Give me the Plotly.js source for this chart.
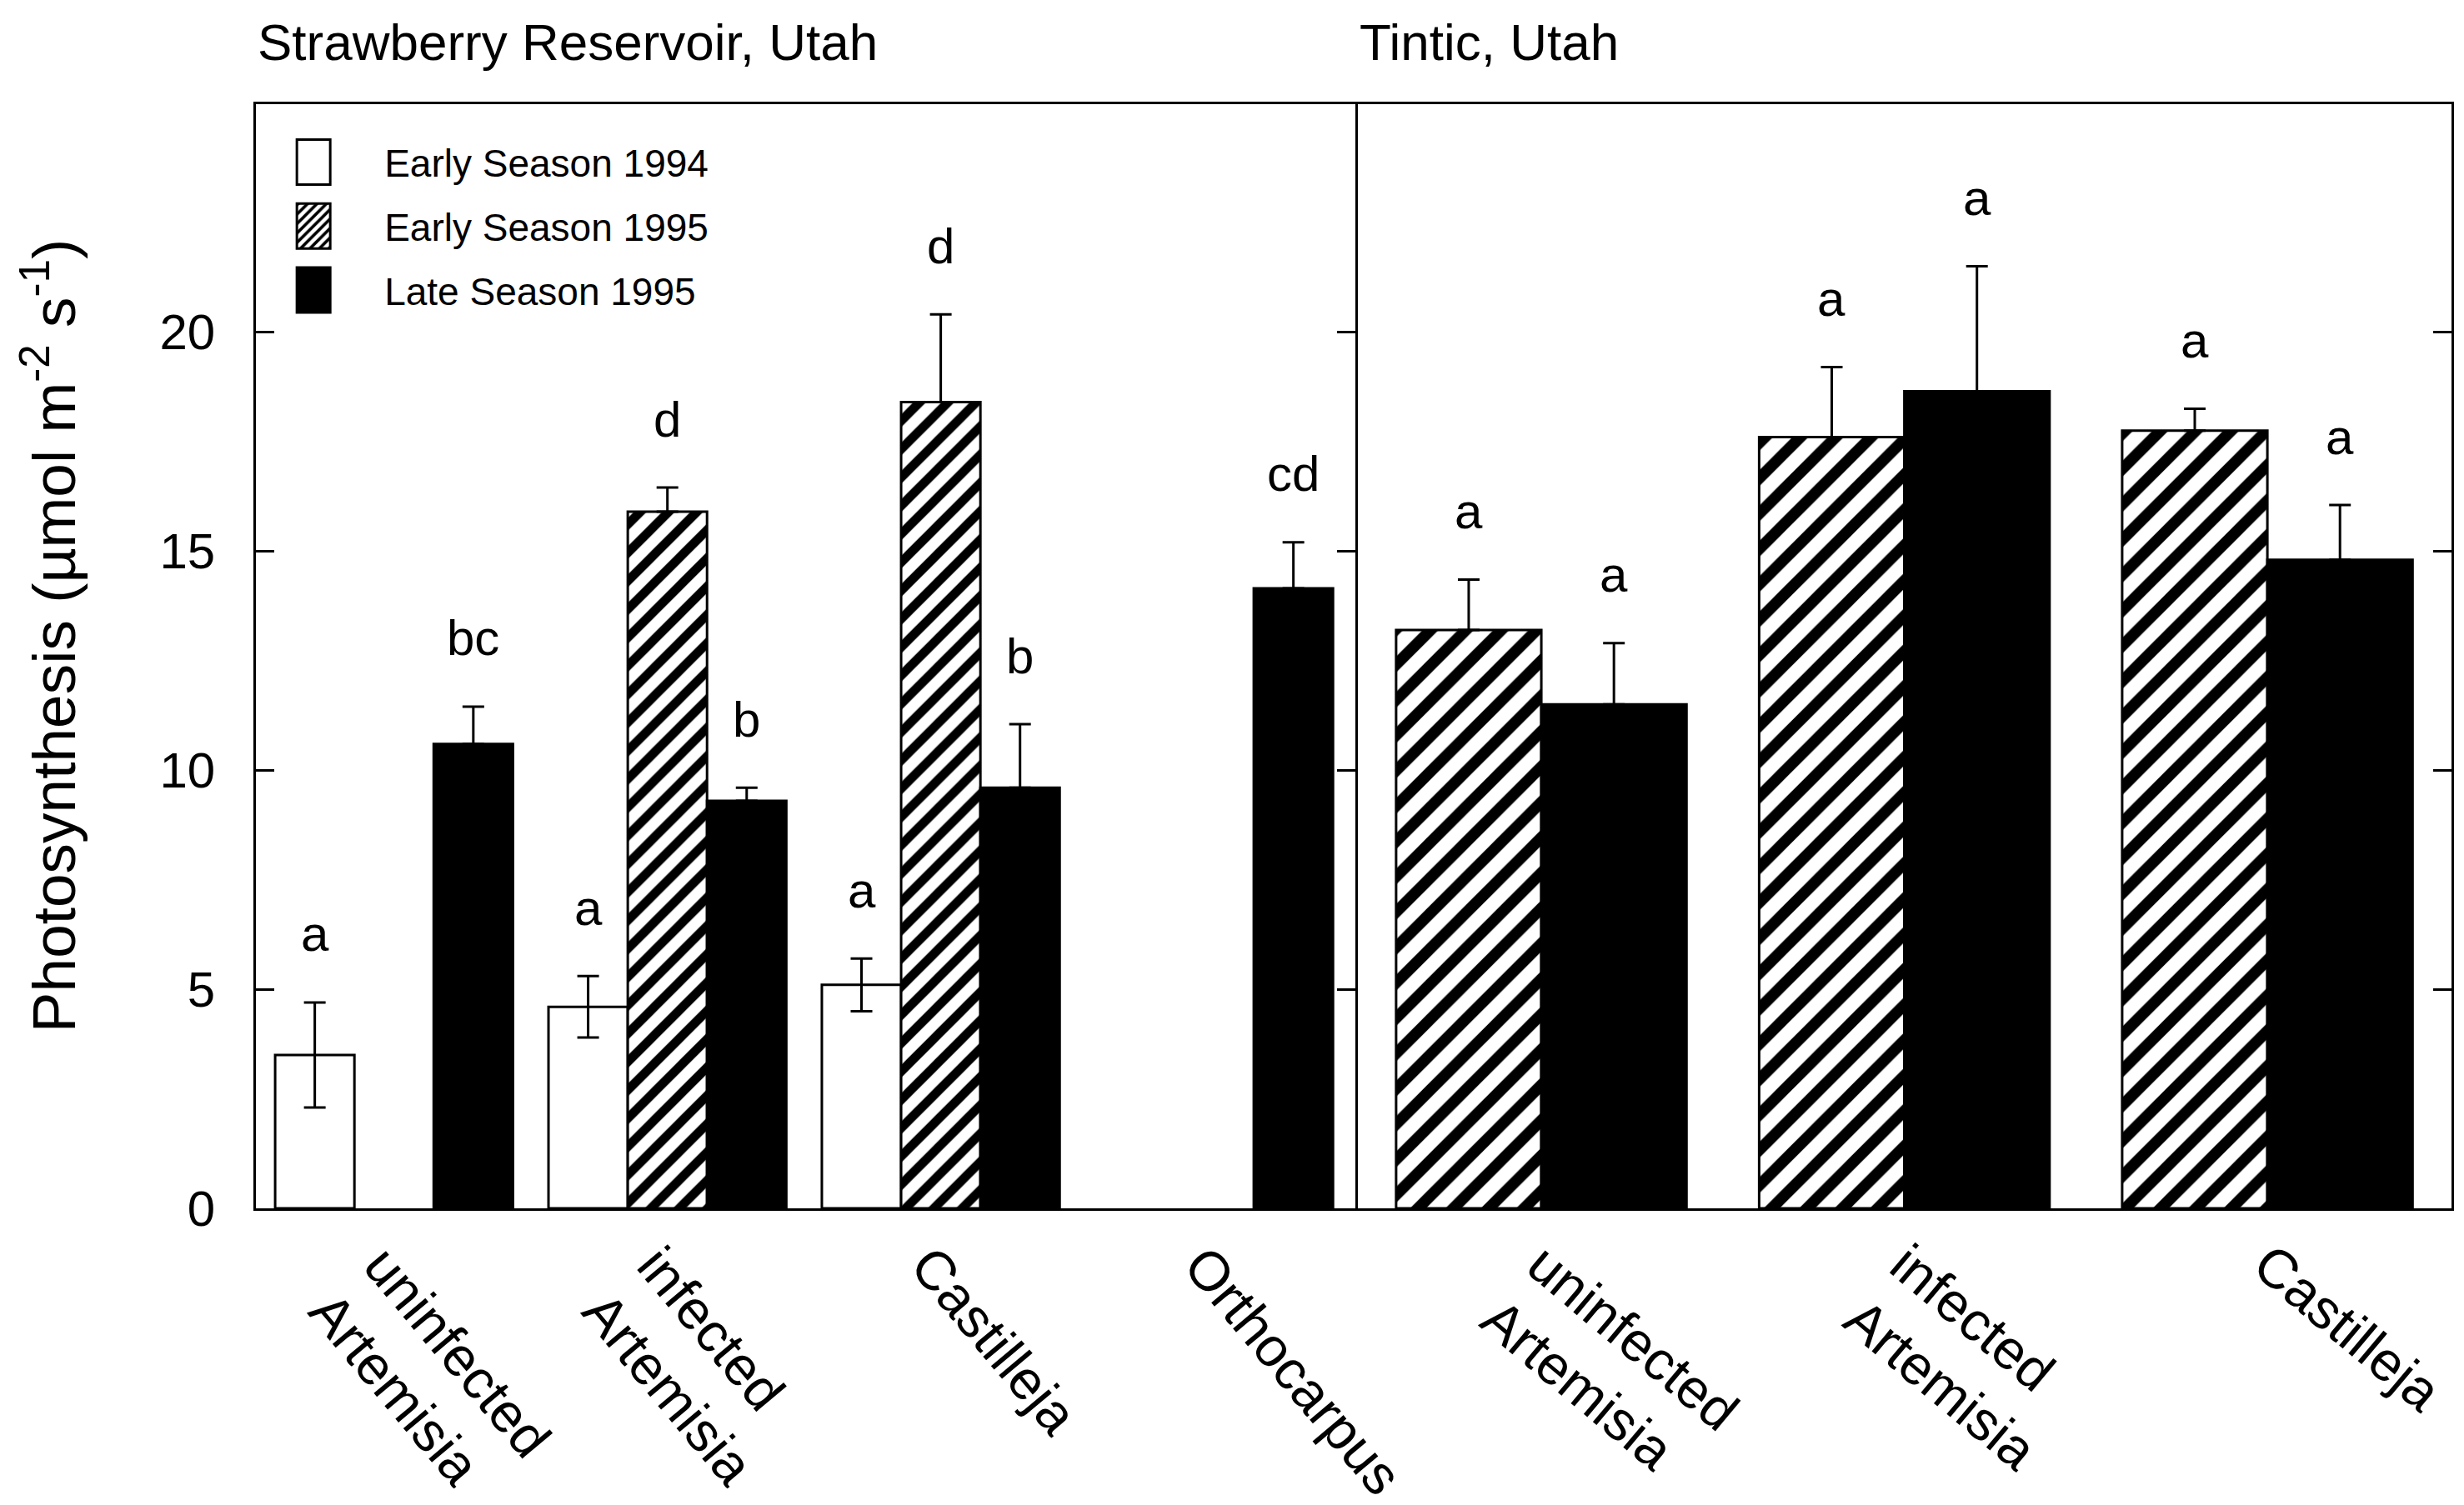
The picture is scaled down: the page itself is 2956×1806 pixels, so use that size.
<!DOCTYPE html>
<html>
<head>
<meta charset="utf-8">
<script src="https://cdn.plot.ly/plotly-3.0.1.min.js"></script>
<style>
  html, body { margin: 0; padding: 0; background: #ffffff; }
  #chart { width: 2956px; height: 1806px; }
</style>
</head>
<body>
<div id="chart"></div>
<script>
// ---------- data ----------
const seriesNames = ["Early Season 1994", "Early Season 1995", "Late Season 1995"];

// Strawberry Reservoir, Utah
const leftCategories = ["uninfected<br>Artemisia", "infected<br>Artemisia", "Castilleja", "Orthocarpus"];
const leftEarly1994 = [3.5, 4.6, 5.1, null];
const leftEarly1994Err = [1.2, 0.7, 0.6, null];
const leftEarly1995 = [null, 15.9, 18.4, null];
const leftEarly1995Err = [null, 0.55, 2.0, null];
const leftLate1995 = [10.6, 9.3, 9.6, 14.15];
const leftLate1995Err = [0.85, 0.3, 1.45, 1.05];
const leftEarly1994Letters = ["a", "a", "a", ""];
const leftEarly1995Letters = ["", "d", "d", ""];
const leftLate1995Letters = ["bc", "b", "b", "cd"];

// Tintic, Utah
const rightCategories = ["uninfected<br>Artemisia", "infected<br>Artemisia", "Castilleja"];
const rightEarly1995 = [13.2, 17.6, 17.75];
const rightEarly1995Err = [1.15, 1.6, 0.5];
const rightLate1995 = [11.5, 18.65, 14.8];
const rightLate1995Err = [1.4, 2.85, 1.25];
const rightEarly1995Letters = ["a", "a", "a"];
const rightLate1995Letters = ["a", "a", "a"];

const yTicks = [0, 5, 10, 15, 20];
const panelTitles = ["Strawberry Reservoir, Utah", "Tintic, Utah"];
const yTitle = "Photosynthesis (µmol m<sup>-2</sup> s<sup>-1</sup>)";

// ---------- styling ----------
const FONT = "'Liberation Sans', Arial, Helvetica, sans-serif";
const LW = 3;
const leftW = 0.29;                      // bar width (category units), left panel
const leftOff = [-1.5 * leftW, -0.5 * leftW, 0.5 * leftW];
const rightW = 0.40;                     // bar width, right panel
const rightOff = [-rightW, 0];

// error bars drawn upward only for the 1995 series
function noDown(arr) { return arr.map(() => 0); }

const errStyle = {thickness: 3, width: 13, color: "#000"};

function hatch(size) {
  return {shape: "/", fgcolor: "#000", fgopacity: 1, bgcolor: "#fff", size: size, solidity: 0.45, fillmode: "replace"};
}

const traces = [
  {
    type: "bar", name: seriesNames[0], legendgroup: "g0",
    x: leftCategories, y: leftEarly1994, xaxis: "x", yaxis: "y",
    width: leftW, offset: leftOff[0],
    marker: {color: "#fff", line: {color: "#000", width: LW}},
    error_y: Object.assign({type: "data", array: leftEarly1994Err, symmetric: true, visible: true}, errStyle),
    hoverinfo: "skip"
  },
  {
    type: "bar", name: seriesNames[1], legendgroup: "g1",
    x: leftCategories, y: leftEarly1995, xaxis: "x", yaxis: "y",
    width: leftW, offset: leftOff[1],
    marker: {color: "#fff", pattern: hatch(24), line: {color: "#000", width: LW}},
    error_y: Object.assign({type: "data", array: leftEarly1995Err, arrayminus: noDown(leftEarly1995Err), symmetric: false, visible: true}, errStyle),
    hoverinfo: "skip"
  },
  {
    type: "bar", name: seriesNames[2], legendgroup: "g2",
    x: leftCategories, y: leftLate1995, xaxis: "x", yaxis: "y",
    width: leftW, offset: leftOff[2],
    marker: {color: "#000", line: {color: "#000", width: LW}},
    error_y: Object.assign({type: "data", array: leftLate1995Err, arrayminus: noDown(leftLate1995Err), symmetric: false, visible: true}, errStyle),
    hoverinfo: "skip"
  },
  {
    type: "bar", name: seriesNames[1], legendgroup: "g1", showlegend: false,
    x: rightCategories, y: rightEarly1995, xaxis: "x2", yaxis: "y2",
    width: rightW, offset: rightOff[0],
    marker: {color: "#fff", pattern: hatch(30), line: {color: "#000", width: LW}},
    error_y: Object.assign({type: "data", array: rightEarly1995Err, arrayminus: noDown(rightEarly1995Err), symmetric: false, visible: true}, errStyle),
    hoverinfo: "skip"
  },
  {
    type: "bar", name: seriesNames[2], legendgroup: "g2", showlegend: false,
    x: rightCategories, y: rightLate1995, xaxis: "x2", yaxis: "y2",
    width: rightW, offset: rightOff[1],
    marker: {color: "#000", line: {color: "#000", width: LW}},
    error_y: Object.assign({type: "data", array: rightLate1995Err, arrayminus: noDown(rightLate1995Err), symmetric: false, visible: true}, errStyle),
    hoverinfo: "skip"
  }
];

// significance letters placed above each error bar, derived from the data arrays
const annotations = [];
function addLetters(cats, vals, errs, letters, off, w, xref, yref) {
  cats.forEach((c, i) => {
    if (!letters[i] || vals[i] == null) return;
    annotations.push({
      xref: xref, yref: yref, x: i + off + w / 2, y: vals[i] + (errs[i] || 0),
      text: letters[i], showarrow: false, yanchor: "middle", yshift: 82,
      font: {family: FONT, size: 60, color: "#000"}
    });
  });
}
addLetters(leftCategories, leftEarly1994, leftEarly1994Err, leftEarly1994Letters, leftOff[0], leftW, "x", "y");
addLetters(leftCategories, leftEarly1995, leftEarly1995Err, leftEarly1995Letters, leftOff[1], leftW, "x", "y");
addLetters(leftCategories, leftLate1995, leftLate1995Err, leftLate1995Letters, leftOff[2], leftW, "x", "y");
addLetters(rightCategories, rightEarly1995, rightEarly1995Err, rightEarly1995Letters, rightOff[0], rightW, "x2", "y2");
addLetters(rightCategories, rightLate1995, rightLate1995Err, rightLate1995Letters, rightOff[1], rightW, "x2", "y2");

const xL0 = 0.1039, xDiv = 0.5501, xR1 = 0.9949;
const yD = [0.1971, 0.9308];

annotations.push(
  {xref: "paper", yref: "paper", x: xL0, y: 0.9723, xanchor: "left", yanchor: "middle",
   text: panelTitles[0], showarrow: false, font: {family: FONT, size: 62, color: "#000"}},
  {xref: "paper", yref: "paper", x: xDiv + 0.001, y: 0.9723, xanchor: "left", yanchor: "middle",
   text: panelTitles[1], showarrow: false, font: {family: FONT, size: 62, color: "#000"}},
  {xref: "paper", yref: "paper", x: 0.020, y: 0.5775, xanchor: "center", yanchor: "middle",
   textangle: -90, text: yTitle, showarrow: false, font: {family: FONT, size: 73, color: "#000"}}
);

const yCommon = {
  domain: yD, range: [0, 25.2], tickvals: yTicks, showgrid: false, zeroline: false,
  showline: true, linecolor: "#000", linewidth: 3, ticks: "inside", ticklen: 22, tickwidth: 3, tickcolor: "#000"
};

const layout = {
  width: 2956, height: 1806,
  margin: {l: 0, r: 0, t: 0, b: 0},
  paper_bgcolor: "#fff", plot_bgcolor: "#fff",
  font: {family: FONT, color: "#000"},
  showlegend: true,
  legend: {
    x: 0.0985, y: 0.9125, xanchor: "left", yanchor: "top",
    bgcolor: "rgba(0,0,0,0)", borderwidth: 0,
    font: {family: FONT, size: 46, color: "#000"},
    itemwidth: 160, traceorder: "grouped", tracegroupgap: 14,
    itemclick: false, itemdoubleclick: false
  },
  xaxis: {
    domain: [xL0, xDiv], anchor: "y", type: "category", categoryarray: leftCategories,
    range: [-0.505, 3.517], showgrid: false, zeroline: false,
    showline: true, linecolor: "#000", linewidth: 3, mirror: true, ticks: "",
    tickangle: 50, ticklabelshift: -14, tickfont: {family: FONT, size: 66, color: "#000"}
  },
  // left panel axis: its mirror forms the divider, ticks pointing into the left panel
  yaxis: Object.assign({}, yCommon, {
    anchor: "x", mirror: "ticks", showticklabels: true, ticklabelstandoff: 34,
    tickfont: {family: FONT, size: 60, color: "#000"}
  }),
  xaxis2: {
    domain: [xDiv, xR1], anchor: "y2", type: "category", categoryarray: rightCategories,
    range: [-0.512, 2.507], showgrid: false, zeroline: false,
    showline: true, linecolor: "#000", linewidth: 3, mirror: true, ticks: "",
    tickangle: 40, tickfont: {family: FONT, size: 66, color: "#000"}
  },
  // right panel axis on the right frame, ticks pointing inward
  yaxis2: Object.assign({}, yCommon, {
    anchor: "x2", side: "right", mirror: false, showticklabels: false
  }),
  annotations: annotations,
  bargap: 0.1
};

const gd = document.getElementById("chart");
const SWATCH = "M20,27H-20V-27H20Z";
function enlargeSwatches() {
  gd.querySelectorAll(".legend .legendpoints path").forEach(function (p) {
    if (p.getAttribute("d") !== SWATCH) p.setAttribute("d", SWATCH);
    p.style.strokeWidth = "3px";
  });
}
Plotly.newPlot(gd, traces, layout, {staticPlot: true, displayModeBar: false}).then(function () {
  enlargeSwatches();
  if (gd.on) gd.on("plotly_afterplot", enlargeSwatches);
  setTimeout(enlargeSwatches, 50);
  setTimeout(enlargeSwatches, 300);
});
</script>
</body>
</html>
